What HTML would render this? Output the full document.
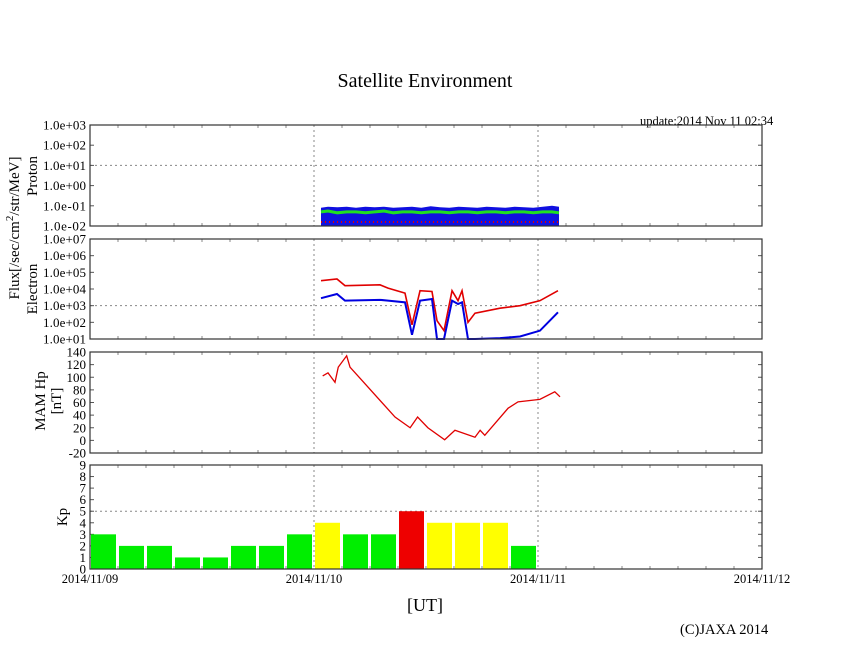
<!DOCTYPE html>
<html><head><meta charset="utf-8"><style>
html,body{margin:0;padding:0;background:#fff;}
svg{display:block;font-family:"Liberation Serif",serif;}
</style></head><body>
<svg id="chart" width="846" height="655" viewBox="0 0 846 655" xmlns="http://www.w3.org/2000/svg">
<text x="425" y="87" text-anchor="middle" font-size="20">Satellite Environment</text>
<text x="640" y="125" font-size="12.5">update:2014 Nov 11 02:34</text>
<text transform="translate(19,228) rotate(-90)" text-anchor="middle" font-size="15">Flux[/sec/cm<tspan dy="-6" font-size="11">2</tspan><tspan dy="6">/str/MeV]</tspan></text>
<text transform="translate(37,176) rotate(-90)" text-anchor="middle" font-size="15">Proton</text>
<text transform="translate(37,289) rotate(-90)" text-anchor="middle" font-size="15">Electron</text>
<text transform="translate(45,401) rotate(-90)" text-anchor="middle" font-size="15">MAM Hp</text>
<text transform="translate(61,401) rotate(-90)" text-anchor="middle" font-size="15">[nT]</text>
<text transform="translate(67,517) rotate(-90)" text-anchor="middle" font-size="15">Kp</text>
<text x="425" y="611" text-anchor="middle" font-size="18">[UT]</text>
<text x="680" y="634" font-size="14.5">(C)JAXA 2014</text>
<g id="plots"></g>
</svg>
<script>
const xTickLabels = ["2014/11/09","2014/11/10","2014/11/11","2014/11/12"];
const protonTimes = [24.75,25.5,26.5,27.5,28.5,29.5,30.5,31.5,32.5,33.5,34.5,35.5,36.5,37.5,38.5,39.5,40.5,41.5,42.5,43.5,44.5,45.5,46.5,47.5,48.5,49.5,50.25];
const protonBlue  = [0.08,0.09,0.085,0.09,0.08,0.09,0.085,0.09,0.08,0.085,0.09,0.08,0.095,0.085,0.08,0.09,0.085,0.08,0.09,0.085,0.08,0.09,0.085,0.08,0.09,0.1,0.09];
const protonGreen = [0.05,0.055,0.045,0.05,0.05,0.045,0.05,0.055,0.045,0.05,0.05,0.045,0.05,0.05,0.045,0.05,0.05,0.045,0.05,0.05,0.045,0.05,0.05,0.045,0.05,0.05,0.045];
const eTimes = [24.75,26.46,27.32,31.07,31.93,33.75,34.5,35.36,36.64,37.18,37.93,38.79,39.43,39.86,40.5,41.25,43.93,46.07,48.21,50.14];
const eRed  = [4.5,4.6,4.2,4.25,4.05,3.75,1.85,3.9,3.85,2.1,1.5,3.9,3.3,3.9,2.0,2.55,2.85,3.0,3.3,3.9];
const eBlue = [3.45,3.7,3.3,3.35,3.3,3.2,1.25,3.3,3.4,1.0,1.0,3.3,3.1,3.2,1.0,1.0,1.05,1.15,1.5,2.6];
const hpTimes = [24.93,25.5,26.25,26.6,27.5,27.86,32.68,34.3,35.1,36.2,38.0,39.1,41.25,41.8,42.3,44.8,45.86,48.2,49.8,50.36];
const hpValues = [102,107,92,116,134,116,37,20,37,20,1,16,5,16,8,51,61,65,77,69];
const kpValues = [3,2,2,1,1,2,2,3,4,3,3,5,4,4,4,2];
const protonTicks = ["1.0e-02","1.0e-01","1.0e+00","1.0e+01","1.0e+02","1.0e+03"];
const electronTicks = ["1.0e+01","1.0e+02","1.0e+03","1.0e+04","1.0e+05","1.0e+06","1.0e+07"];
const hpTicks = ["-20","0","20","40","60","80","100","120","140"];
const kpTicks = ["0","1","2","3","4","5","6","7","8","9"];

const NS="http://www.w3.org/2000/svg";
const g=document.getElementById('plots');
const X0=90,X1=762,HOURS=72;
const xs=h=>X0+(h/HOURS)*(X1-X0);
function mk(tag,attrs,parent){const e=document.createElementNS(NS,tag);for(const k in attrs)e.setAttribute(k,attrs[k]);(parent||g).appendChild(e);return e;}

const panels=[
 {name:'proton',top:125,bot:226,min:-2,max:3,ticks:protonTicks,grid:1},
 {name:'electron',top:239,bot:339,min:1,max:7,ticks:electronTicks,grid:3},
 {name:'mam-hp',top:352,bot:453,min:-20,max:140,ticks:hpTicks,grid:null},
 {name:'kp',top:465,bot:569,min:0,max:9,ticks:kpTicks,grid:5}
];
panels.forEach(p=>{p.y=v=>p.bot-(v-p.min)/(p.max-p.min)*(p.bot-p.top);});

panels.forEach(p=>{
 [24,48].forEach(h=>{const l=mk('line',{x1:xs(h),x2:xs(h),y1:p.top,y2:p.bot,stroke:'#888','stroke-dasharray':'2,3','stroke-width':1});
  
  });
 if(p.grid!==null){const l=mk('line',{x1:X0,x2:X1,y1:p.y(p.grid),y2:p.y(p.grid),stroke:'#888','stroke-dasharray':'2,3','stroke-width':1});
  
  }
 for(let h=3;h<HOURS;h+=3){ if(h%24===0)continue;
  mk('line',{x1:xs(h),x2:xs(h),y1:p.top,y2:p.top+3,stroke:'#888'});
  mk('line',{x1:xs(h),x2:xs(h),y1:p.bot,y2:p.bot-3,stroke:'#888'});}
 p.ticks.forEach((t,i)=>{const v=p.min+i*(p.max-p.min)/(p.ticks.length-1);const yy=p.y(v);
  mk('line',{x1:X0,x2:X0+4,y1:yy,y2:yy,stroke:'#555'});
  mk('line',{x1:X1,x2:X1-4,y1:yy,y2:yy,stroke:'#555'});
  const tx=mk('text',{x:X0-4,y:yy+4.5,'text-anchor':'end','font-size':13,'textLength':t.length>4?43:null});
  if(t.length<=4)tx.removeAttribute('textLength');
  tx.textContent=t;
  
  });
});

const pp=panels[0];
let d='M'+xs(protonTimes[0])+','+pp.bot;
protonTimes.forEach((t,i)=>{d+=' L'+xs(t)+','+pp.y(Math.log10(protonBlue[i]));});
d+=' L'+xs(protonTimes[protonTimes.length-1])+','+pp.bot+' Z';
const pb=mk('path',{d:d,fill:'#1010e0'});


const pr=mk('polyline',{points:protonTimes.map(t=>xs(t)+','+(pp.bot-4)).join(' '),fill:'none',stroke:'#e00000','stroke-width':2,'stroke-dasharray':'1,3'});


const pg=mk('polyline',{points:protonTimes.map((t,i)=>xs(t)+','+pp.y(Math.log10(protonGreen[i]))).join(' '),fill:'none',stroke:'#20e020','stroke-width':3});



const ep=panels[1];
const er=mk('polyline',{points:eTimes.map((t,i)=>xs(t)+','+ep.y(eRed[i])).join(' '),fill:'none',stroke:'#e00000','stroke-width':1.6});


const eb=mk('polyline',{points:eTimes.map((t,i)=>xs(t)+','+ep.y(eBlue[i])).join(' '),fill:'none',stroke:'#0000e0','stroke-width':2});



const hp=panels[2];
const hl=mk('polyline',{points:hpTimes.map((t,i)=>xs(t)+','+hp.y(hpValues[i])).join(' '),fill:'none',stroke:'#e00000','stroke-width':1.3});



const kp=panels[3];
kpValues.forEach((v,i)=>{const x0=xs(i*3)+1,x1=xs(i*3+3)-2;
 const col=v>=5?'#ee0000':(v>=4?'#ffff00':'#00ee00');
 const r=mk('rect',{x:x0,y:kp.y(v),width:x1-x0,height:kp.bot-kp.y(v),fill:col});
 
 });

panels.forEach(p=>{const r=mk('rect',{x:X0,y:p.top,width:X1-X0,height:p.bot-p.top,fill:'none',stroke:'#333','stroke-width':1.2});
 
 });

xTickLabels.forEach((s,i)=>{const t=mk('text',{x:xs(i*24),y:583,'text-anchor':'middle','font-size':12.5});t.textContent=s;
 
 });
</script>
</body></html>
